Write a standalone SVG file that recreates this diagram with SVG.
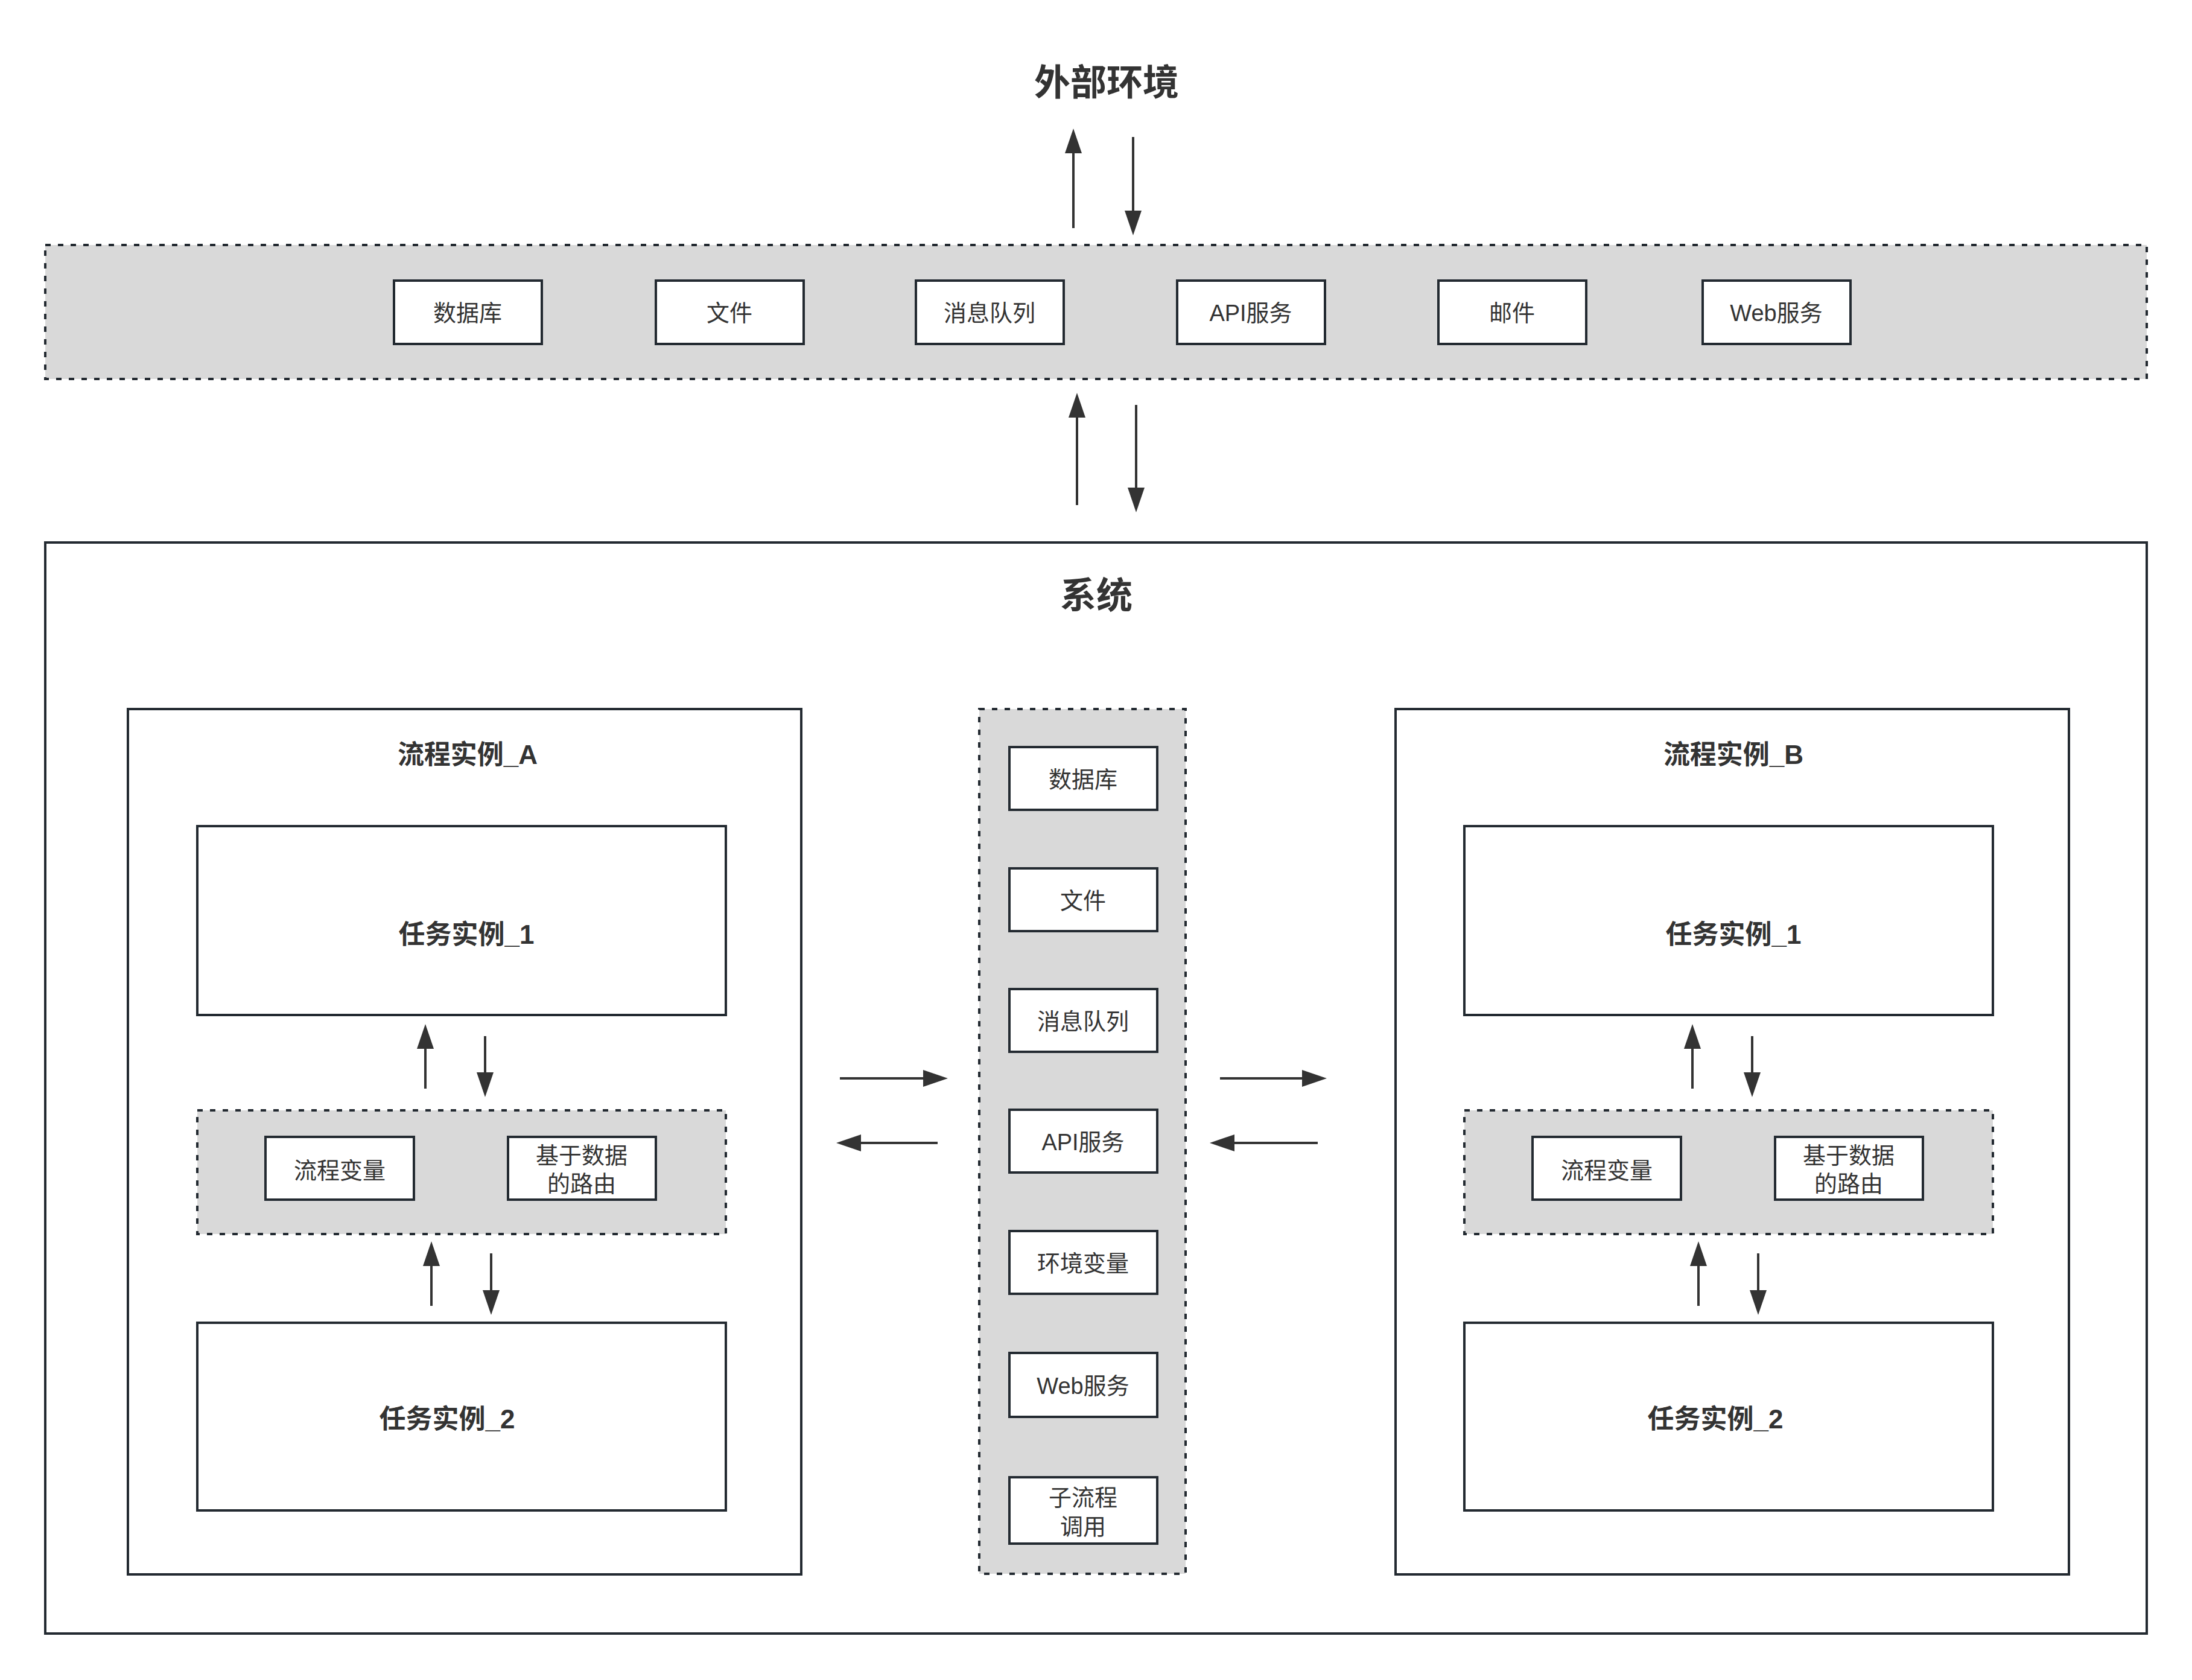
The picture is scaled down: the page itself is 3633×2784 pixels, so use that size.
<svg xmlns="http://www.w3.org/2000/svg" width="3633" height="2784" viewBox="0 0 3633 2784">
<style>
.bg{fill:#ffffff}
.box{fill:#ffffff;stroke:#232a31;stroke-width:4}
.grp{fill:#d9d9d9;stroke:#232a31;stroke-width:4;stroke-dasharray:9 12}
.t{font-family:"Liberation Sans","Noto Sans CJK SC",sans-serif;fill:#333333;text-anchor:middle}
.s{font-size:38px}
.b{font-size:44px;font-weight:bold}
.h{font-size:60px;font-weight:bold}
.c{stroke:#333333;stroke-width:4;fill:none;marker-end:url(#ah)}
</style>
<defs>
<marker id="ah" viewBox="0 0 41 28" refX="0" refY="14" markerWidth="41" markerHeight="28" markerUnits="userSpaceOnUse" orient="auto">
<path d="M0,0 L41,14 L0,28 Z" fill="#333333"/>
</marker>
</defs>
<rect class="bg" x="0" y="0" width="3633" height="2784"/>

<g id="title-env"><text class="t h" x="1834" y="158">外部环境</text></g>

<g id="env-band">
<rect class="grp" x="75" y="406" width="3483" height="222"/>
</g>
<g id="env-db"><rect class="box" x="653" y="465" width="245" height="105"/><text class="t s" x="775" y="532">数据库</text></g>
<g id="env-file"><rect class="box" x="1087" y="465" width="245" height="105"/><text class="t s" x="1209" y="532">文件</text></g>
<g id="env-mq"><rect class="box" x="1518" y="465" width="245" height="105"/><text class="t s" x="1640" y="532">消息队列</text></g>
<g id="env-api"><rect class="box" x="1951" y="465" width="245" height="105"/><text class="t s" x="2073" y="532">API服务</text></g>
<g id="env-mail"><rect class="box" x="2384" y="465" width="245" height="105"/><text class="t s" x="2506" y="532">邮件</text></g>
<g id="env-web"><rect class="box" x="2822" y="465" width="245" height="105"/><text class="t s" x="2944" y="532">Web服务</text></g>

<g id="system">
<rect class="box" x="75" y="899" width="3483" height="1808"/>
<text class="t h" x="1817" y="1008">系统</text>
</g>

<g id="process-a">
<rect class="box" x="212" y="1175" width="1116" height="1434"/>
<text class="t b" x="775" y="1266">流程实例_A</text>
</g>
<g id="task-a1"><rect class="box" x="327" y="1369" width="876" height="313"/><text class="t b" x="773" y="1564">任务实例_1</text></g>
<g id="vars-a"><rect class="grp" x="327" y="1840" width="876" height="205"/></g>
<g id="var-a"><rect class="box" x="440" y="1884" width="246" height="104"/><text class="t s" x="563" y="1953">流程变量</text></g>
<g id="route-a"><rect class="box" x="842" y="1884" width="245" height="104"/><text class="t s" x="964" y="1928">基于数据</text><text class="t s" x="964" y="1975">的路由</text></g>
<g id="task-a2"><rect class="box" x="327" y="2192" width="876" height="311"/><text class="t b" x="741" y="2367">任务实例_2</text></g>

<g id="shared">
<rect class="grp" x="1623" y="1175" width="342" height="1433"/>
</g>
<g id="sh-db"><rect class="box" x="1673" y="1238" width="245" height="104"/><text class="t s" x="1795" y="1305">数据库</text></g>
<g id="sh-file"><rect class="box" x="1673" y="1439" width="245" height="104"/><text class="t s" x="1795" y="1506">文件</text></g>
<g id="sh-mq"><rect class="box" x="1673" y="1639" width="245" height="104"/><text class="t s" x="1795" y="1706">消息队列</text></g>
<g id="sh-api"><rect class="box" x="1673" y="1839" width="245" height="104"/><text class="t s" x="1795" y="1906">API服务</text></g>
<g id="sh-envvar"><rect class="box" x="1673" y="2040" width="245" height="104"/><text class="t s" x="1795" y="2107">环境变量</text></g>
<g id="sh-web"><rect class="box" x="1673" y="2242" width="245" height="106"/><text class="t s" x="1795" y="2310">Web服务</text></g>
<g id="sh-sub"><rect class="box" x="1673" y="2448" width="245" height="110"/><text class="t s" x="1795" y="2495">子流程</text><text class="t s" x="1795" y="2543">调用</text></g>

<g id="process-b">
<rect class="box" x="2313" y="1175" width="1116" height="1434"/>
<text class="t b" x="2873" y="1266">流程实例_B</text>
</g>
<g id="task-b1"><rect class="box" x="2427" y="1369" width="876" height="313"/><text class="t b" x="2873" y="1564">任务实例_1</text></g>
<g id="vars-b"><rect class="grp" x="2427" y="1840" width="876" height="205"/></g>
<g id="var-b"><rect class="box" x="2540" y="1884" width="246" height="104"/><text class="t s" x="2663" y="1953">流程变量</text></g>
<g id="route-b"><rect class="box" x="2942" y="1884" width="245" height="104"/><text class="t s" x="3064" y="1928">基于数据</text><text class="t s" x="3064" y="1975">的路由</text></g>
<g id="task-b2"><rect class="box" x="2427" y="2192" width="876" height="311"/><text class="t b" x="2843" y="2367">任务实例_2</text></g>

<g id="connectors">
<path class="c" d="M1779,378 V254"/>
<path class="c" d="M1878,227 V349"/>
<path class="c" d="M1785,837 V692"/>
<path class="c" d="M1883,671 V808"/>
<path class="c" d="M705,1804 V1738"/>
<path class="c" d="M804,1717 V1777"/>
<path class="c" d="M715,2164 V2098"/>
<path class="c" d="M814,2077 V2138"/>
<path class="c" d="M2805,1804 V1738"/>
<path class="c" d="M2904,1717 V1777"/>
<path class="c" d="M2815,2164 V2098"/>
<path class="c" d="M2914,2077 V2138"/>
<path class="c" d="M1392,1787 H1530"/>
<path class="c" d="M1554,1894 H1427"/>
<path class="c" d="M2022,1787 H2158"/>
<path class="c" d="M2184,1894 H2046"/>
</g>
</svg>
